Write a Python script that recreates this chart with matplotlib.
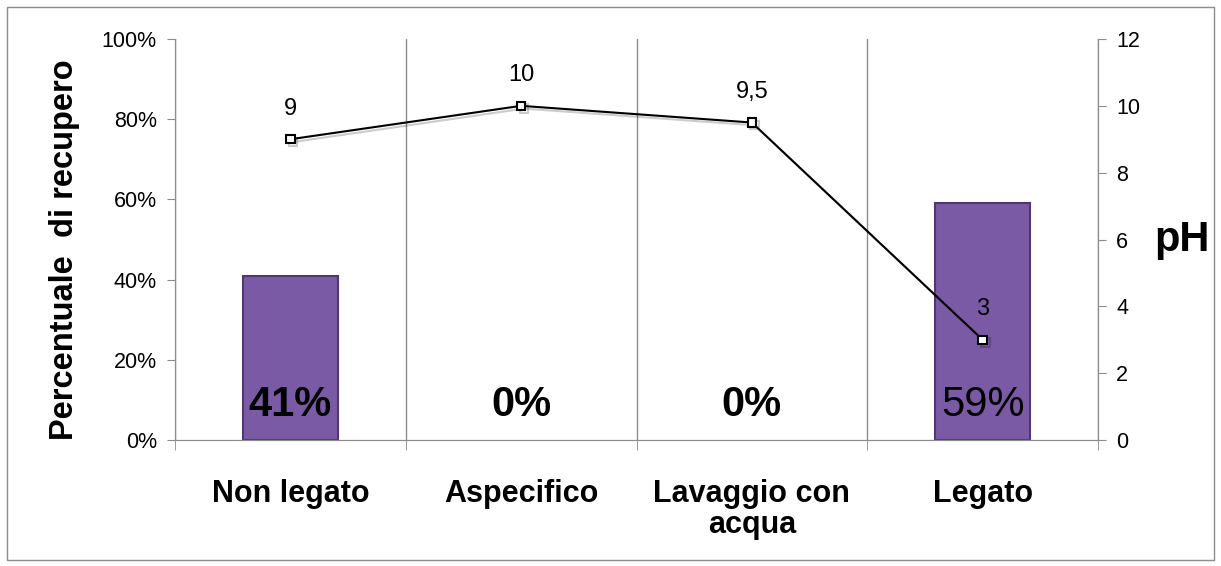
import matplotlib
matplotlib.use("Agg")
import matplotlib.pyplot as plt
import matplotlib.patheffects as pe
from matplotlib.patches import Rectangle
from matplotlib.ticker import FuncFormatter
import numpy as np

plt.rcParams["font.family"] = ["Liberation Sans", "DejaVu Sans"]

categories = ["Non legato", "Aspecifico", "Lavaggio con\nacqua", "Legato"]
recupero = [41, 0, 0, 59]            # percent
recupero_bold = [True, True, True, False]
ph = [9, 10, 9.5, 3]
ph_labels = ["9", "10", "9,5", "3"]

GRAY = "#8c8c8c"
BAR = "#7a5aa5"
BAR_EDGE = "#4f3872"

fig = plt.figure(figsize=(12.21, 5.66), dpi=100)
ax = fig.add_axes([175 / 1221, 1 - 440 / 566, 923 / 1221, 401 / 566])
ax2 = ax.twinx()

x = np.arange(len(categories))
bars = ax.bar(x, recupero, width=0.41, color=BAR, edgecolor=BAR_EDGE,
              linewidth=1.5, zorder=2)
for b, v in zip(bars, recupero):
    if v == 0:
        b.set_linewidth(0)
for xi, v, bold in zip(x, recupero, recupero_bold):
    ax.annotate(f"{v}%", (xi, 0), xytext=(0, 11), textcoords="offset points",
                ha="center", va="bottom", fontsize=30,
                fontweight="bold" if bold else "normal", zorder=5)

ax.set_xlim(-0.5, len(categories) - 0.5)
ax.set_ylim(0, 100)
ax.set_yticks(np.arange(0, 101, 20))
ax.yaxis.set_major_formatter(FuncFormatter(lambda v, _: f"{v:.0f}%"))
ax.set_xticks(x)
ax.set_xticklabels(categories, fontsize=22, fontweight="bold", linespacing=1.05)
ax.set_xticks(np.arange(-0.5, len(categories), 1.0), minor=True)
ax.tick_params(axis="x", which="major", length=0, pad=28)
ax.tick_params(axis="x", which="minor", length=7, color=GRAY)
ax.tick_params(axis="y", length=6, color=GRAY, labelsize=15.5, pad=7)
ax.grid(True, axis="x", which="minor", color=GRAY, linewidth=1, zorder=0)
ax.set_axisbelow(True)
ax.set_ylabel("Percentuale  di recupero", fontsize=23.5, fontweight="bold")
ax.yaxis.set_label_coords(-0.103, 0.475)

for a in (ax, ax2):
    a.spines["top"].set_visible(False)
    for s in ("left", "right", "bottom"):
        a.spines[s].set_color(GRAY)

shadow = [pe.SimpleLineShadow(offset=(2, -2), alpha=0.2), pe.Normal()]
ax2.plot(x, ph, color="black", linewidth=1.5, marker="s", markersize=6,
         markerfacecolor="white", markeredgecolor="black",
         markeredgewidth=1.5, path_effects=shadow, zorder=4)
for xi, v, lab in zip(x, ph, ph_labels):
    ax2.annotate(lab, (xi, v), xytext=(0, 14), textcoords="offset points",
                 ha="center", va="bottom", fontsize=17)
ax2.set_ylim(0, 12)
ax2.set_yticks(np.arange(0, 13, 2))
ax2.tick_params(axis="y", length=6, color=GRAY, labelsize=15.5, pad=7)
ax2.set_ylabel("pH", fontsize=30, fontweight="bold", rotation=0,
               va="center", labelpad=30)

fig.patches.append(Rectangle((7 / 1221, 6 / 566), 1207 / 1221, 553 / 566,
                             transform=fig.transFigure, fill=False,
                             edgecolor=GRAY, linewidth=1))

fig.savefig("out.png", dpi=100)
